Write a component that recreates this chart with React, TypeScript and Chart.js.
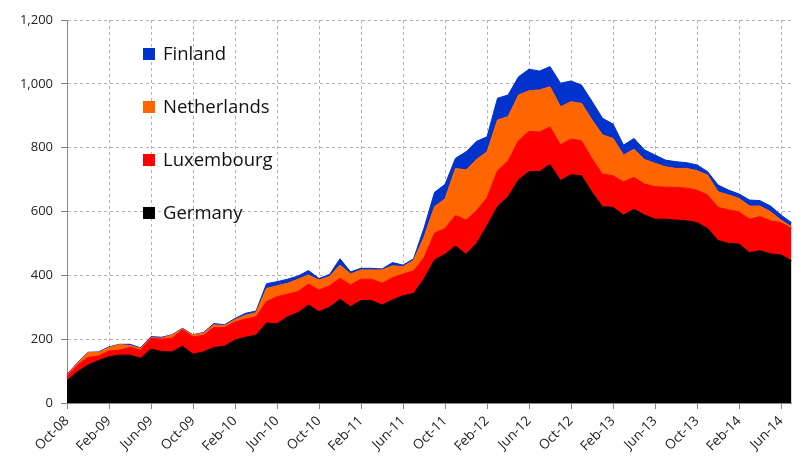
import React, { useEffect, useRef } from 'react';
import { Chart, registerables } from 'chart.js';

Chart.register(...registerables);

const categories = [
  'Oct-08','Nov-08','Dec-08','Jan-09','Feb-09','Mar-09','Apr-09','May-09','Jun-09','Jul-09','Aug-09','Sep-09',
  'Oct-09','Nov-09','Dec-09','Jan-10','Feb-10','Mar-10','Apr-10','May-10','Jun-10','Jul-10','Aug-10','Sep-10',
  'Oct-10','Nov-10','Dec-10','Jan-11','Feb-11','Mar-11','Apr-11','May-11','Jun-11','Jul-11','Aug-11','Sep-11',
  'Oct-11','Nov-11','Dec-11','Jan-12','Feb-12','Mar-12','Apr-12','May-12','Jun-12','Jul-12','Aug-12','Sep-12',
  'Oct-12','Nov-12','Dec-12','Jan-13','Feb-13','Mar-13','Apr-13','May-13','Jun-13','Jul-13','Aug-13','Sep-13',
  'Oct-13','Nov-13','Dec-13','Jan-14','Feb-14','Mar-14','Apr-14','May-14','Jun-14','Jul-14',
];

const tickLabels = [
  'Oct-08','Feb-09','Jun-09','Oct-09','Feb-10','Jun-10','Oct-10','Feb-11','Jun-11',
  'Oct-11','Feb-12','Jun-12','Oct-12','Feb-13','Jun-13','Oct-13','Feb-14','Jun-14',
];

const germany = [
  70, 98, 119, 133, 145, 150, 150, 140, 169, 161,
  160, 178, 153, 160, 174, 178, 197, 206, 212, 251,
  248, 270, 283, 307, 286, 300, 325, 302, 321, 321,
  307, 323, 336, 343, 389, 448, 466, 492, 466, 500,
  555, 615, 646, 699, 725, 725, 747, 697, 715, 712,
  660, 615, 613, 589, 607, 589, 576, 576, 573, 571,
  565, 547, 509, 500, 498, 471, 477, 467, 464, 446,
];

const luxembourg = [
  15, 21, 24, 14, 18, 16, 25, 26, 34, 39,
  43, 52, 54, 52, 63, 59, 57, 57, 58, 67,
  85, 71, 66, 66, 68, 67, 66, 68, 67, 67,
  68, 70, 68, 71, 66, 84, 81, 96, 107, 102,
  88, 113, 112, 123, 126, 124, 118, 112, 112, 110,
  105, 102, 99, 104, 100, 97, 102, 100, 103, 102,
  102, 105, 104, 105, 101, 105, 107, 104, 101, 101,
];

const netherlands = [
  3, 5, 15, 11, 11, 17, 5, 5, 2, 3,
  10, 2, 6, 7, 8, 5, 7, 12, 13, 41,
  34, 34, 39, 28, 31, 29, 41, 34, 29, 29,
  42, 37, 23, 33, 65, 83, 93, 147, 157, 161,
  144, 159, 139, 143, 127, 132, 126, 119, 117, 117,
  122, 123, 117, 84, 88, 77, 73, 64, 59, 62,
  61, 62, 49, 47, 42, 41, 33, 28, 8, 5,
];

const finland = [
  2, 2, 1, 2, 2, 1, 4, 2, 3, 3,
  1, 2, 1, 2, 4, 3, 4, 6, 5, 15,
  13, 13, 10, 14, 5, 7, 20, 7, 5, 5,
  3, 10, 5, 5, 28, 45, 45, 32, 57, 57,
  47, 68, 68, 57, 68, 59, 63, 74, 65, 57,
  58, 52, 45, 31, 34, 30, 26, 21, 21, 18,
  18, 11, 21, 15, 14, 19, 17, 18, 16, 13,
];

const seriesNames = ['Germany', 'Luxembourg', 'Netherlands', 'Finland'];
const seriesColors = ['#000000', '#FF0000', '#FF6600', '#0033CC'];
const legendOrder = ['Finland', 'Netherlands', 'Luxembourg', 'Germany'];

const FONT = '"Open Sans", "DejaVu Sans", sans-serif';

const insideLegend = {
  id: 'insideLegend',
  afterDraw(chart: any) {
    const { ctx, chartArea } = chart;
    ctx.save();
    ctx.font = `18.5px ${FONT}`;
    ctx.textBaseline = 'middle';
    ctx.textAlign = 'left';
    legendOrder.forEach((name, k) => {
      const idx = seriesNames.indexOf(name);
      const y = chartArea.top + 34 + k * 53;
      const x = chartArea.left + 76;
      ctx.fillStyle = seriesColors[idx];
      ctx.fillRect(x, y - 6, 12, 12);
      ctx.fillStyle = '#111111';
      ctx.fillText(name, x + 20, y + 1);
    });
    ctx.restore();
  },
};

export default function App() {
  const ref = useRef<HTMLCanvasElement | null>(null);

  useEffect(() => {
    if (!ref.current) return;
    const values = [germany, luxembourg, netherlands, finland];
    const chart = new Chart(ref.current, {
      type: 'line',
      data: {
        labels: categories,
        datasets: values.map((v, i) => ({
          label: seriesNames[i],
          data: v,
          backgroundColor: seriesColors[i],
          borderColor: seriesColors[i],
          borderWidth: 1,
          pointRadius: 0,
          tension: 0,
          fill: i === 0 ? 'origin' : '-1',
        })),
      },
      options: {
        responsive: false,
        animation: false,
        devicePixelRatio: 1,
        layout: { padding: { top: 20, right: 4, left: 0, bottom: 0 } },
        plugins: {
          legend: { display: false },
          tooltip: { enabled: false },
        },
        scales: {
          x: {
            type: 'category',
            offset: false,
            afterFit(scale: any) {
              scale.height = 54;
            },
            grid: {
              color: (c: any) => (c.index % 4 === 0 ? '#b4b4b4' : 'rgba(0,0,0,0)'),
              tickColor: (c: any) => (c.index % 4 === 0 ? '#868686' : 'rgba(0,0,0,0)'),
              tickLength: 6,
              lineWidth: 1,
            },
            border: { display: true, color: '#868686', width: 1, dash: [3, 3] },
            ticks: {
              autoSkip: false,
              maxRotation: 45,
              minRotation: 45,
              padding: 4,
              color: '#222222',
              font: { family: FONT, size: 13.5 },
              callback: (_v: any, i: number) =>
                tickLabels.includes(categories[i]) ? categories[i] : '',
            },
          },
          y: {
            stacked: true,
            min: 0,
            max: 1200,
            afterFit(scale: any) {
              scale.width = 67;
            },
            grid: {
              color: '#b4b4b4',
              tickColor: '#868686',
              tickLength: 6,
              lineWidth: 1,
            },
            border: { display: true, color: '#868686', width: 1, dash: [3, 3] },
            ticks: {
              stepSize: 200,
              padding: 8,
              color: '#222222',
              font: { family: FONT, size: 13 },
              callback: (v: any) => Number(v).toLocaleString('en-US'),
            },
          },
        },
      },
      plugins: [insideLegend],
    });
    return () => chart.destroy();
  }, []);

  return (
    <div style={{ position: 'absolute', left: 0, top: 0, width: 807, height: 457, background: '#fff' }}>
      <canvas ref={ref} width={807} height={457} style={{ display: 'block', width: 807, height: 457 }} />
    </div>
  );
}
